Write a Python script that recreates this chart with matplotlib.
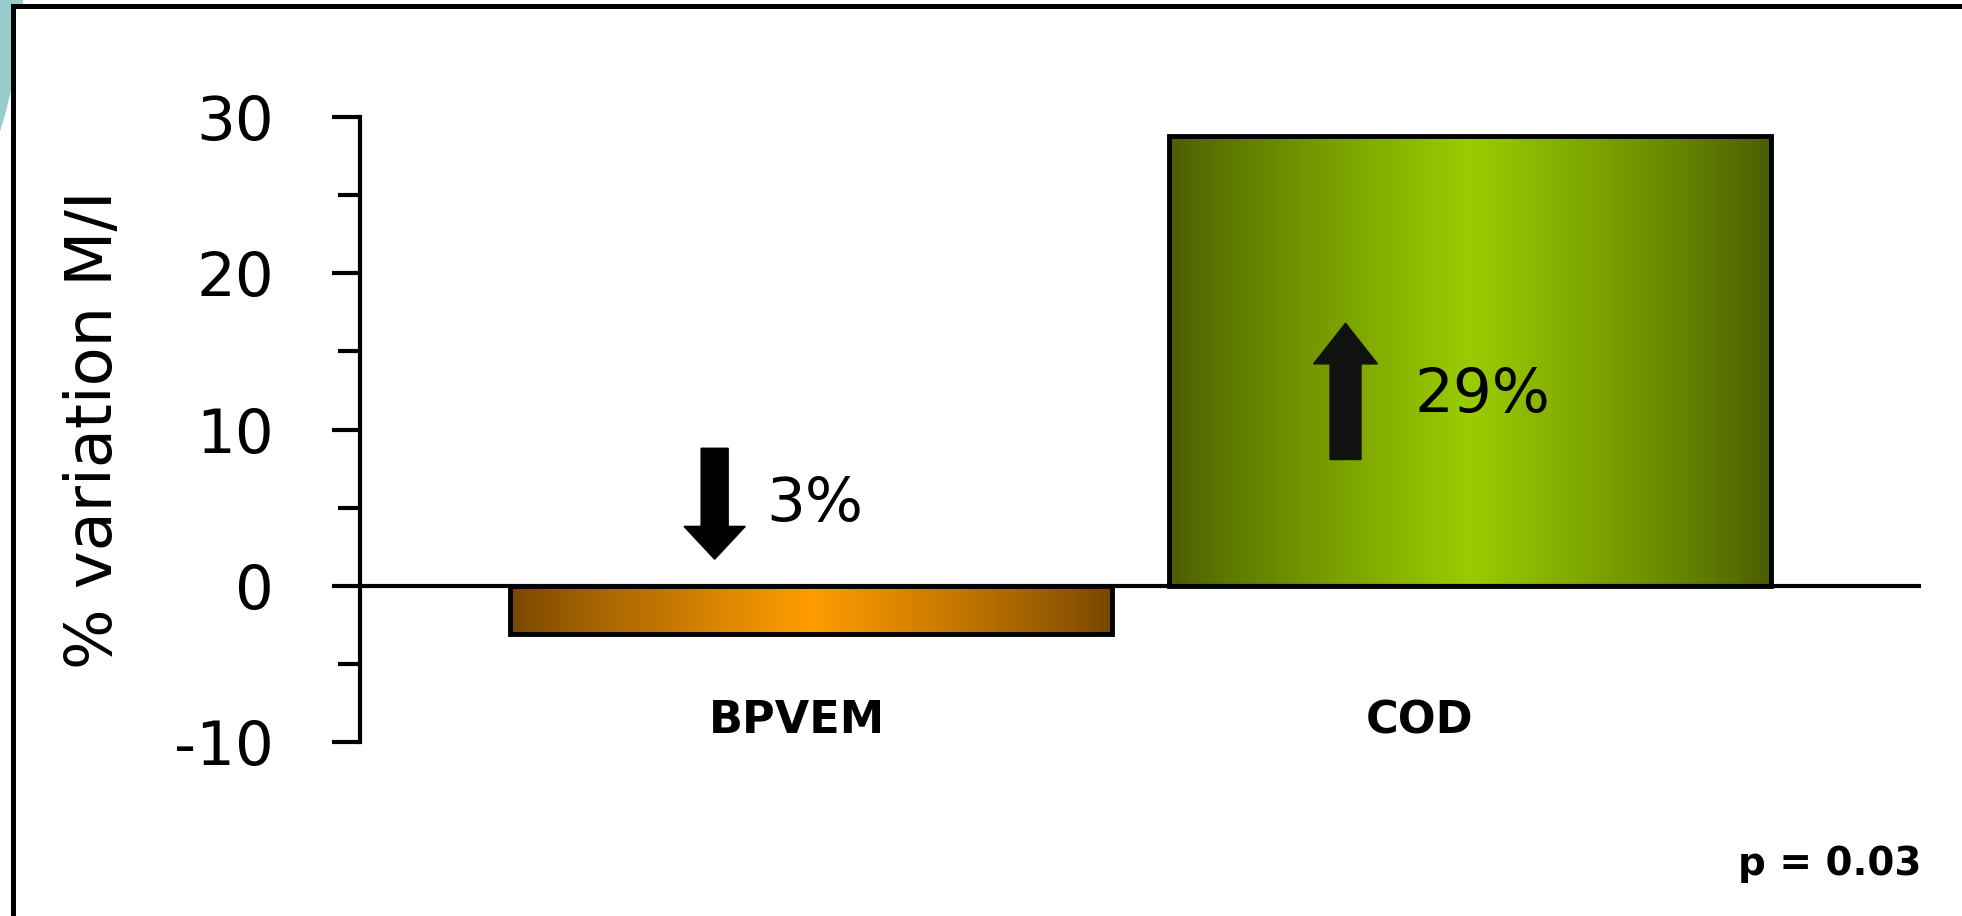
import numpy as np
import matplotlib.pyplot as plt
from matplotlib.colors import LinearSegmentedColormap
from matplotlib.patches import Circle
from matplotlib.lines import Line2D

plt.rcParams["axes.unicode_minus"] = False

# data
categories = ["BPVEM", "COD"]
values = [-3.1, 28.8]
change_text = ["3%", "29%"]
p_text = "p = 0.03"
y_ticks = [-10, 0, 10, 20, 30]

# bar gradient colours (edge -> centre)
bar_edge_colors = ["#764600", "#4a5c00"]
bar_mid_colors = ["#ff9c00", "#99cc00"]
arrow_colors = ["#000000", "#101210"]

W, H = 1962, 916
fig = plt.figure(figsize=(W / 100, H / 100), dpi=100)
fig.patch.set_facecolor("white")

# decorative slide background: teal circle peeking out top-left + frame
circ = Circle((-500, H + 25), 524, transform=None, facecolor="#99cccc",
              edgecolor="none", zorder=0)
fig.patches.append(circ)
fig.patches.append(plt.Rectangle((13 / W, 0), 1, 1 - 6 / H, transform=fig.transFigure,
                                 facecolor="white", edgecolor="none", zorder=0.5))
fig.lines.append(Line2D([13 / W, 13 / W], [0, 1 - 6 / H], transform=fig.transFigure,
                        color="black", lw=3.6, zorder=1))
fig.lines.append(Line2D([13 / W, 1], [1 - 6 / H, 1 - 6 / H], transform=fig.transFigure,
                        color="black", lw=3.6, zorder=1))

ax = fig.add_axes([360 / W, (H - 742) / H, (1921 - 360) / W, (742 - 117) / H])
ax.set_facecolor("none")
ax.set_zorder(2)

x = np.arange(len(categories))
bar_w = 0.913
bars = ax.bar(x, values, width=bar_w, facecolor="none", edgecolor="black",
              linewidth=3.5, zorder=3)

# horizontal gradient inside each bar
grad = (1 - np.abs(np.linspace(-1, 1, 256))) ** 0.85
for b, c0, c1 in zip(bars, bar_edge_colors, bar_mid_colors):
    cmap = LinearSegmentedColormap.from_list("g", [c0, c1])
    x0, y0 = b.get_x(), b.get_y()
    w, h = b.get_width(), b.get_height()
    im = ax.imshow(grad[np.newaxis, :], cmap=cmap, aspect="auto",
                   extent=[x0, x0 + w, y0, y0 + h], origin="lower", zorder=2,
                   interpolation="bicubic")
    im.set_clip_path(b)

ax.set_xlim(-0.684, 1.684)
ax.set_ylim(-10, 30)
ax.axhline(0, color="black", lw=3, zorder=4)

# arrows and percentage labels
ax.arrow(-0.146, 8.8, 0, -7.1, width=0.041, head_width=0.093, head_length=2.1,
         length_includes_head=True, color=arrow_colors[0], zorder=5)
ax.arrow(0.811, 8.08, 0, 8.72, width=0.047, head_width=0.097, head_length=2.6,
         length_includes_head=True, color=arrow_colors[1], zorder=5)
ax.text(-0.068, 5.2, change_text[0], fontsize=44, ha="left", va="center", zorder=6)
ax.text(0.915, 12.2, change_text[1], fontsize=44, ha="left", va="center", zorder=6)

# category labels (slightly left of the bar centres, as in the original)
label_shift = [-0.021, -0.076]
for i, lab in enumerate(categories):
    ax.text(x[i] + label_shift[i], -8.65, lab, fontsize=32, fontweight="bold",
            ha="center", va="center")

ax.text(1.0, -17.8, p_text, fontsize=28, fontweight="bold", ha="right",
        va="center", transform=ax.get_yaxis_transform(), clip_on=False)

# axes styling
for s in ["top", "right", "bottom"]:
    ax.spines[s].set_visible(False)
ax.spines["left"].set_linewidth(3)
ax.set_xticks([])
ax.set_yticks(y_ticks)
ax.set_yticks(np.arange(-10, 31, 5), minor=True)
ax.tick_params(axis="y", which="major", length=20, width=3, labelsize=44, pad=42)
ax.tick_params(axis="y", which="minor", length=16, width=3)

ax.set_ylabel("% variation M/I", fontsize=46)
ax.yaxis.set_label_coords(-0.1704, 0.5)
ax.yaxis.label.set_verticalalignment("center")

fig.savefig("out.png", dpi=100)
